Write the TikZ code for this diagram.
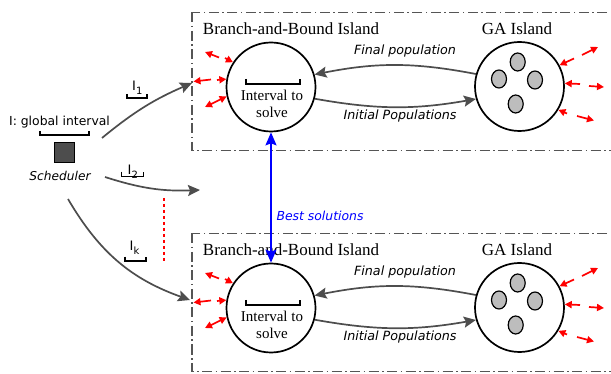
\documentclass[tikz,border=0pt]{standalone}
\usepackage{fontspec}
\setmainfont{Liberation Serif}
\newfontfamily\dvs{DejaVu Sans}
\usetikzlibrary{arrows.meta,calc,shapes.geometric}
\definecolor{agray}{HTML}{4D4D4D}
\definecolor{boxgray}{HTML}{555555}
\definecolor{popgray}{HTML}{BDBDBD}
\begin{document}
\begin{tikzpicture}[x=1pt,y=-1pt,
  island/.style={draw, circle, line width=1.7pt, minimum size=89pt, inner sep=0pt},
  garr/.style={draw=agray, line width=1.7pt, -{Stealth[length=12pt,width=11pt,inset=2pt]}},
  redarr/.style={draw=red, line width=1.7pt, -{Triangle[length=7pt,width=7pt]}},
  redboth/.style={draw=red, line width=1.7pt, {Triangle[length=7pt,width=7pt]}-{Triangle[length=7pt,width=7pt]}},
  lab/.style={font=\dvs\itshape\fontsize{12.7}{14}\selectfont, inner sep=0pt},
  ttl/.style={font=\fontsize{17}{20}\selectfont, inner sep=0pt, anchor=base},
  boxline/.style={draw=boxgray, line width=1.6pt, dash pattern=on 10pt off 3.5pt on 1.5pt off 3.5pt},
  bracket/.style={line width=1.4pt},
  pop/.style={draw, ellipse, fill=popgray, line width=1.2pt, minimum width=15pt, minimum height=18pt, inner sep=0pt},
  ilab/.style={font=\dvs\fontsize{13}{14}\selectfont, anchor=base west, inner sep=0pt}
]
\useasboundingbox (0,0) rectangle (611,374);
\clip (0,0) rectangle (611,374);

\foreach \o/\s in {0/1,221/2}{
\begin{scope}[shift={(0,\o)}]
  \draw[boxline] (192,12.5) rectangle (650,150.5);
  \node[island] (bb\s) at (271,87) {};
  \node[island] (ga\s) at (519.5,86.5) {};
  \node[ttl] (bbt\s) at (291,34.5) {Branch-and-Bound Island};
  \node[ttl] (gat\s) at (517,34.5) {GA Island};
  \node[font=\fontsize{15}{17}\selectfont, align=center, inner sep=0pt] (iv\s) at (272,103.5) {Interval to\\solve};
  \draw[bracket] (246,79) -- (246,84) -- (300,84) -- (300,79);
  \node[pop] (p\s a) at (517.7,62) {};
  \node[pop] (p\s b) at (499,79) {};
  \node[pop] (p\s c) at (535,80) {};
  \node[pop] (p\s d) at (515.7,104) {};
  \draw[garr] (ga\s.164) to[bend right=11] (bb\s.16);
  \draw[garr] (bb\s.-15) to[bend right=10] (ga\s.196);
  \node[lab] (fp\s) at (405,51) {Final population};
  \node[lab] (ip\s) at (400,116) {Initial Populations};
  % migration arrows, B&B side
  \draw[redarr] (219,57.5) -- (205,52);
  \draw[redarr] (225,58) -- (bb\s.147);
  \draw[redarr] (211,79.5) -- (193.5,81.5);
  \draw[redarr] (217,80) -- (bb\s.170);
  \draw[redboth] (205,107) -- (bb\s.192);
  % migration arrows, GA side
  \draw[redarr] (574,58.5) -- (ga\s.28);
  \draw[redarr] (582,55) -- (598,47);
  \draw[redarr] (580,84) -- (ga\s.4);
  \draw[redarr] (589,86) -- (604,87);
  \draw[redarr] (567,113.5) -- (ga\s.-31);
  \draw[redarr] (577,116) -- (594,120.5);
\end{scope}
}

\draw[blue, line width=1.7pt, {Stealth[length=13pt,width=11pt,inset=2pt]}-{Stealth[length=13pt,width=11pt,inset=2pt]}] (bb1.south) -- (bb2.north);
\node[lab, text=blue, font=\dvs\itshape\fontsize{12.4}{14}\selectfont] (best) at (320,216) {Best solutions};

% scheduler
\node[draw=black, fill=agray, minimum size=20pt, inner sep=0pt, line width=1.2pt] (sched) at (64.3,152.7) {};
\node[font=\dvs\fontsize{12.4}{14}\selectfont, inner sep=0pt, anchor=base] (gi) at (59.5,126) {I: global interval};
\draw[bracket] (40,131) -- (40,135) -- (89,135) -- (89,131);
\node[lab, font=\dvs\itshape\fontsize{12.2}{14}\selectfont, anchor=base] (schedl) at (60,180.5) {Scheduler};

\coordinate (s1) at (102,138); \coordinate (e1) at (192,83);
\coordinate (s2) at (105,177); \coordinate (e2) at (200,190);
\coordinate (s3) at (68,199);  \coordinate (e3) at (190,300);
\draw[garr] (s1) to[bend left=8] (e1);
\draw[garr] (s2) to[bend right=10] (e2);
\draw[garr] (s3) to[bend right=20] (e3);

\node[ilab] (l1) at (132,90.7) {I\raisebox{-3.5pt}{\fontsize{10}{10}\selectfont 1}};
\draw[bracket] (127,94) -- (127,98) -- (147,98) -- (147,94);
\node[ilab] (l2) at (127.5,175) {I\raisebox{-3.5pt}{\fontsize{10}{10}\selectfont 2}};
\draw[bracket] (121.7,171.7) -- (121.7,176.7) -- (143.3,176.7) -- (143.3,171.7);
\node[ilab] (lk) at (129.5,250.7) {I\raisebox{-3.5pt}{\fontsize{10}{10}\selectfont k}};
\draw[bracket] (125,256.7) -- (125,261) -- (146,261) -- (146,256.7);

\coordinate (d1) at (164.3,198); \coordinate (d2) at (164.3,263);
\draw[red, line width=1.8pt, dash pattern=on 3pt off 3pt] (d1) -- (d2);
\end{tikzpicture}
\end{document}
